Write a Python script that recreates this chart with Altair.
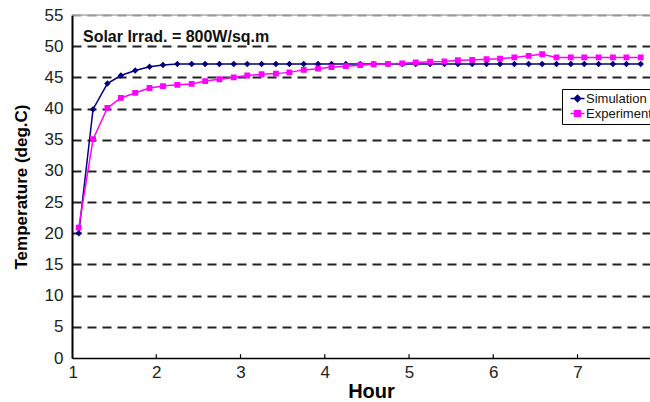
import altair as alt
import pandas as pd

# ---- data ----
hours = [1.08, 1.25, 1.42, 1.58, 1.75, 1.92, 2.08, 2.25, 2.42, 2.58,
         2.75, 2.92, 3.08, 3.25, 3.42, 3.58, 3.75, 3.92, 4.08, 4.25,
         4.42, 4.58, 4.75, 4.92, 5.08, 5.25, 5.42, 5.58, 5.75, 5.92,
         6.08, 6.25, 6.42, 6.58, 6.75, 6.92, 7.08, 7.25, 7.42, 7.58, 7.75]
simulation = [20.0, 39.9, 44.0, 45.3, 46.1, 46.7, 47.0, 47.15, 47.15, 47.15,
              47.15, 47.15, 47.15, 47.15, 47.15, 47.15, 47.15, 47.15, 47.15, 47.15,
              47.15, 47.15, 47.15, 47.15, 47.15, 47.15, 47.15, 47.15, 47.15, 47.15,
              47.15, 47.15, 47.15, 47.15, 47.15, 47.15, 47.15, 47.15, 47.15, 47.15, 47.15]
experiment = [20.9, 35.1, 40.1, 41.7, 42.5, 43.3, 43.6, 43.8, 43.95, 44.4,
              44.7, 45.0, 45.3, 45.5, 45.6, 45.8, 46.2, 46.4, 46.65, 46.8,
              46.95, 47.1, 47.15, 47.25, 47.4, 47.5, 47.55, 47.75, 47.8, 47.9,
              48.0, 48.2, 48.45, 48.7, 48.2, 48.2, 48.2, 48.2, 48.2, 48.2, 48.2]
series_names = ["Simulation", "Experiment"]
series_colors = ["#000080", "#ff00ff"]
# marker glyphs: a diamond / a square, each with a zero-area dash that only
# shows where a stroke is drawn (i.e. in the legend)
series_shapes = ["M-2.2,0H2.2M0,-1L1,0L0,1L-1,0Z",
                 "M-2.2,0H2.2M-0.9,-0.9H0.9V0.9H-0.9Z"]
x_ticks = [1, 2, 3, 4, 5, 6, 7]
y_ticks = [0, 5, 10, 15, 20, 25, 30, 35, 40, 45, 50, 55]
annotation = "Solar Irrad. = 800W/sq.m"

rows = []
for h, s in zip(hours, simulation):
    rows.append({"Hour": h, "Temp": s, "Series": "Simulation"})
for h, e in zip(hours, experiment):
    rows.append({"Hour": h, "Temp": e, "Series": "Experiment"})
df = pd.DataFrame(rows)

FONT = "Liberation Sans"
XDOM = [1, 7.86]
YDOM = [0, 55]

x_enc = alt.X("Hour:Q", scale=alt.Scale(domain=XDOM, nice=False, zero=False),
              axis=alt.Axis(values=x_ticks, tickCount=20, format="d", title="Hour",
                            grid=False, ticks=False, labelOverlap=False,
                            labelPadding=6, labelFlush=True, labelFlushOffset=4,
                            labelFontSize=17, labelColor="#222", labelFont=FONT,
                            titleFontSize=20, titleFont=FONT, titleFontWeight="bold",
                            titleColor="#000", titlePadding=1, titleX=299,
                            domainColor="#000", domainWidth=1.5))
y_enc = alt.Y("Temp:Q", scale=alt.Scale(domain=YDOM, nice=False),
              axis=alt.Axis(values=y_ticks, tickCount=20, format="d",
                            title="Temperature (deg.C)",
                            ticks=False, labelOverlap=False,
                            grid=True, gridDash=[9, 6], gridWidth=1.8,
                            gridColor={"condition": {"test": "datum.value >= 55",
                                                     "value": "#999999"},
                                       "value": "#222222"},
                            gridOpacity={"condition": {"test": "datum.value <= 0",
                                                       "value": 0}, "value": 1},
                            labelPadding=9, labelFontSize=17,
                            labelColor="#222", labelFont=FONT,
                            titleFontSize=17, titleFont=FONT, titleFontWeight="bold",
                            titleColor="#000", titlePadding=14,
                            domainColor="#000", domainWidth=2))

color_scale = alt.Scale(domain=series_names, range=series_colors)

legend = alt.Legend(orient="none", legendX=490, legendY=74, title=None,
                    strokeColor="#000", fillColor="#fff",
                    padding=3, rowPadding=1, symbolSize=40, symbolOffset=6,
                    symbolStrokeWidth=1.5, labelOffset=2,
                    labelFontSize=13, labelFont=FONT, labelColor="#111")

base = alt.Chart(df)

lines = base.mark_line(strokeWidth=1.5).encode(
    x=x_enc, y=y_enc,
    color=alt.Color("Series:N", scale=color_scale, legend=legend))

pts = base.mark_point(filled=True, size=42, opacity=1, strokeWidth=0).encode(
    x="Hour:Q", y="Temp:Q",
    fill=alt.Fill("Series:N", scale=color_scale, legend=legend),
    shape=alt.Shape("Series:N", scale=alt.Scale(domain=series_names, range=series_shapes),
                    legend=legend))

top_border = alt.Chart(pd.DataFrame({"t": [55]})).mark_rule(
    color="#999", strokeWidth=1).encode(y="t:Q")

tick_df = pd.DataFrame({"x": x_ticks[1:], "y0": [0] * 6, "y1": [0.6] * 6})
xticks = alt.Chart(tick_df).mark_rule(color="#000", strokeWidth=1.2).encode(
    x="x:Q", y="y0:Q", y2="y1:Q")

note = alt.Chart(pd.DataFrame({"x": [1.13], "y": [50.7], "t": [annotation]})).mark_text(
    align="left", baseline="alphabetic", fontSize=16, fontWeight="bold",
    font=FONT, color="#111").encode(x="x:Q", y="y:Q", text="t:N")

chart = alt.layer(lines, pts, top_border, xticks, note).properties(
    width=578, height=343,
    padding={"left": 72, "top": 15, "right": 0, "bottom": 44},
    autosize=alt.AutoSizeParams(type="none"),
).configure_view(stroke=None).configure(background="#ffffff")

chart.save("out.html", embed_options={"renderer": "svg", "actions": False})
